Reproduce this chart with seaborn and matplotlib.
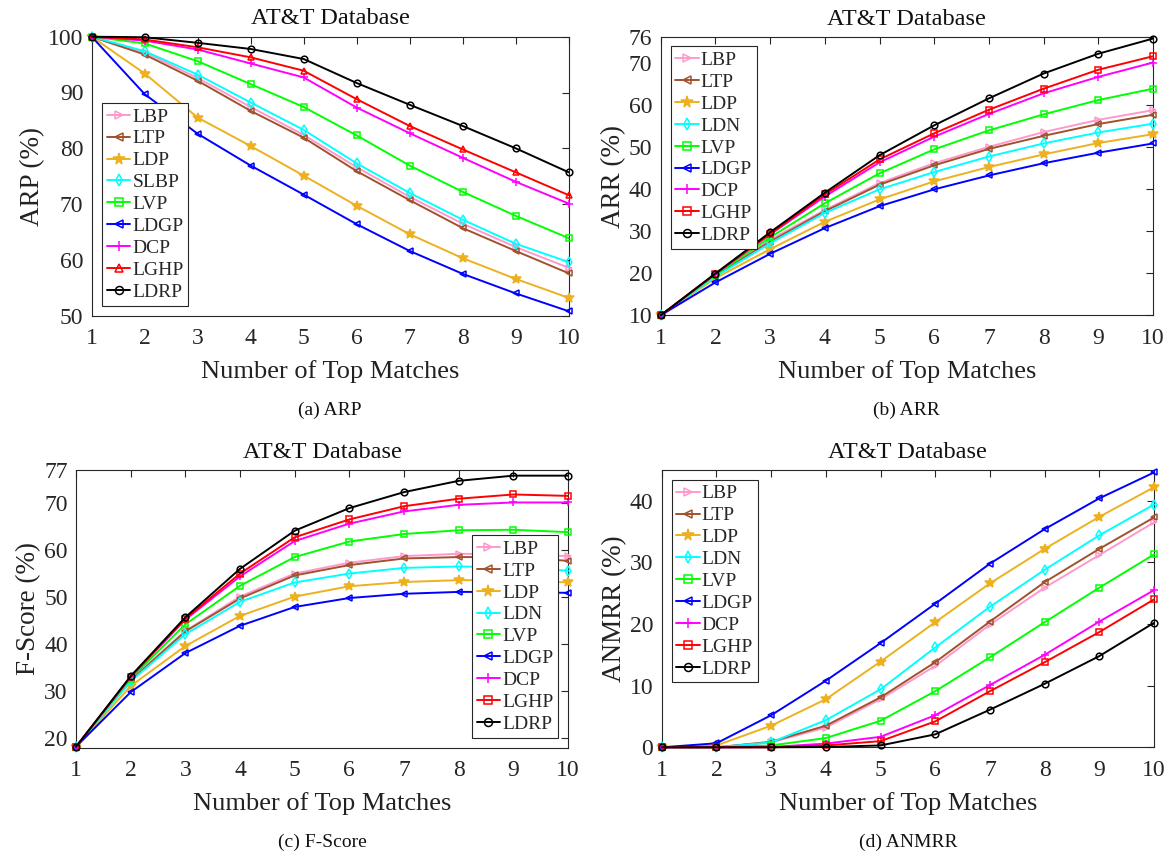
import matplotlib
matplotlib.use("Agg")
import matplotlib.pyplot as plt
import seaborn as sns
import numpy as np

sns.set_theme(style="white")
plt.rcParams['font.family'] = ['Liberation Serif', 'DejaVu Serif']
plt.rcParams['mathtext.fontset'] = 'stix'

top_matches = [1, 2, 3, 4, 5, 6, 7, 8, 9, 10]

# ---- (a) ARP ----
arp_LBP  = [100, 97.2, 92.6, 87.4, 82.4, 76.6, 71.3, 66.5, 62.3, 58.6]
arp_LTP  = [100, 96.8, 92.1, 86.7, 81.9, 75.9, 70.7, 65.7, 61.6, 57.6]
arp_LDP  = [100, 93.4, 85.5, 80.4, 75.1, 69.7, 64.6, 60.3, 56.6, 53.2]
arp_SLBP = [100, 97.4, 93.2, 88.2, 83.3, 77.3, 72.0, 67.2, 62.9, 59.6]
arp_LVP  = [100, 98.8, 95.6, 91.5, 87.4, 82.3, 76.9, 72.2, 67.9, 63.9]
arp_LDGP = [100, 89.7, 82.6, 76.9, 71.7, 66.4, 61.6, 57.5, 54.0, 50.8]
arp_DCP  = [100, 99.3, 97.7, 95.2, 92.7, 87.3, 82.7, 78.3, 74.0, 70.1]
arp_LGHP = [100, 99.5, 98.1, 96.3, 93.9, 88.8, 84.0, 79.8, 75.7, 71.6]
arp_LDRP = [100, 99.9, 98.9, 97.8, 96.0, 91.7, 87.8, 84.0, 80.0, 75.7]

# ---- (b) ARR ----
arr_LBP  = [10, 19.4, 27.9, 35.0, 41.4, 46.1, 50.0, 53.5, 56.4, 58.7]
arr_LTP  = [10, 19.4, 27.5, 34.7, 41.0, 45.6, 49.5, 52.6, 55.4, 57.6]
arr_LDP  = [10, 18.8, 25.7, 32.2, 37.5, 41.8, 45.2, 48.2, 50.9, 53.0]
arr_LDN  = [10, 19.2, 27.1, 34.3, 39.9, 44.0, 47.7, 50.8, 53.4, 55.5]
arr_LVP  = [10, 19.6, 28.5, 36.6, 43.7, 49.4, 53.9, 57.7, 61.1, 63.8]
arr_LDGP = [10, 17.8, 24.6, 30.7, 35.9, 39.9, 43.2, 46.1, 48.6, 50.8]
arr_DCP  = [10, 19.8, 29.2, 38.2, 46.3, 52.4, 57.8, 62.7, 66.6, 70.0]
arr_LGHP = [10, 19.9, 29.3, 38.7, 47.0, 53.2, 58.8, 63.8, 68.3, 71.5]
arr_LDRP = [10, 19.9, 29.7, 39.1, 48.0, 55.1, 61.5, 67.4, 72.1, 75.7]

# ---- (c) F-Score ----
f_LBP  = [18.2, 32.4, 42.8, 50.1, 55.0, 57.3, 58.7, 59.2, 59.1, 58.7]
f_LTP  = [18.2, 32.3, 42.7, 49.7, 54.6, 56.8, 58.2, 58.5, 58.5, 57.7]
f_LDP  = [18.2, 31.1, 39.6, 46.0, 50.1, 52.3, 53.2, 53.6, 53.6, 53.1]
f_LDN  = [18.2, 32.1, 42.1, 49.0, 53.1, 55.0, 56.2, 56.5, 56.3, 55.6]
f_LVP  = [18.2, 32.7, 44.2, 52.4, 58.5, 61.8, 63.4, 64.2, 64.3, 63.8]
f_LDGP = [18.2, 29.8, 38.1, 43.9, 47.9, 49.8, 50.7, 51.1, 51.1, 50.9]
f_DCP  = [18.2, 33.0, 45.2, 54.4, 61.9, 65.6, 68.2, 69.6, 70.1, 70.1]
f_LGHP = [18.2, 33.1, 45.4, 55.0, 62.7, 66.5, 69.3, 70.9, 71.8, 71.5]
f_LDRP = [18.2, 33.2, 45.7, 56.0, 64.1, 68.9, 72.3, 74.7, 75.8, 75.8]

# ---- (d) ANMRR ----
an_LBP  = [0, 0.0, 0.8, 3.2, 7.8, 13.2, 19.9, 25.9, 31.2, 36.5]
an_LTP  = [0, 0.0, 0.9, 3.5, 8.1, 13.8, 20.4, 26.8, 32.2, 37.3]
an_LDP  = [0, 0.3, 3.5, 7.8, 13.9, 20.3, 26.6, 32.2, 37.4, 42.2]
an_LDN  = [0, 0.0, 0.8, 4.4, 9.4, 16.2, 22.8, 28.8, 34.4, 39.4]
an_LVP  = [0, 0.0, 0.3, 1.5, 4.3, 9.1, 14.6, 20.3, 25.9, 31.3]
an_LDGP = [0, 0.65, 5.2, 10.8, 16.9, 23.3, 29.8, 35.4, 40.4, 44.6]
an_DCP  = [0, 0.0, 0.05, 0.6, 1.7, 5.2, 10.1, 15.0, 20.4, 25.5]
an_LGHP = [0, 0.0, 0.0, 0.3, 1.0, 4.2, 9.1, 13.8, 18.7, 24.0]
an_LDRP = [0, 0.0, 0.0, 0.05, 0.3, 2.1, 6.1, 10.3, 14.8, 20.2]

colors = {
    'LBP': '#FF99CC', 'LTP': '#A0522D', 'LDP': '#EDB120', 'SLBP': '#00FFFF',
    'LDN': '#00FFFF', 'LVP': '#00FF00', 'LDGP': '#0000FF', 'DCP': '#FF00FF',
    'LGHP': '#FF0000', 'LDRP': '#000000',
}
markers = {
    'LBP': '>', 'LTP': '<', 'LDP': '*', 'SLBP': 'd', 'LDN': 'd', 'LVP': 's',
    'LDGP': '<', 'DCP': '+', 'LGHP': 's', 'LDRP': 'o',
}

W, H = 1171, 857
fig = plt.figure(figsize=(W / 100, H / 100), dpi=100)


def add_ax(x0, x1, y0, y1):
    return fig.add_axes([x0 / W, 1 - y1 / H, (x1 - x0) / W, (y1 - y0) / H])


panels = [
    dict(box=(91.7, 568.7, 36.7, 315.7), ylim=(50, 100), yticks=[50, 60, 70, 80, 90, 100],
         ylabel='ARP (%)', caption='(a) ARP',
         series=[('LBP', arp_LBP), ('LTP', arp_LTP), ('LDP', arp_LDP), ('SLBP', arp_SLBP),
                 ('LVP', arp_LVP), ('LDGP', arp_LDGP), ('DCP', arp_DCP), ('LGHP', arp_LGHP),
                 ('LDRP', arp_LDRP)],
         lghp_marker='^', leg=dict(loc='upper left', bbox_to_anchor=(0.022, 0.762))),
    dict(box=(660.7, 1153, 37.3, 315.3), ylim=(10, 76), yticks=[10, 20, 30, 40, 50, 60, 70, 76],
         ylabel='ARR (%)', caption='(b) ARR',
         series=[('LBP', arr_LBP), ('LTP', arr_LTP), ('LDP', arr_LDP), ('LDN', arr_LDN),
                 ('LVP', arr_LVP), ('LDGP', arr_LDGP), ('DCP', arr_DCP), ('LGHP', arr_LGHP),
                 ('LDRP', arr_LDRP)],
         lghp_marker='s', leg=dict(loc='upper left', bbox_to_anchor=(0.02, 0.967))),
    dict(box=(76, 568, 470, 747.7), ylim=(18, 77), yticks=[20, 30, 40, 50, 60, 70, 77],
         ylabel='F-Score (%)', caption='(c) F-Score',
         series=[('LBP', f_LBP), ('LTP', f_LTP), ('LDP', f_LDP), ('LDN', f_LDN),
                 ('LVP', f_LVP), ('LDGP', f_LDGP), ('DCP', f_DCP), ('LGHP', f_LGHP),
                 ('LDRP', f_LDRP)],
         lghp_marker='s', leg=dict(loc='lower right', bbox_to_anchor=(0.98, 0.036))),
    dict(box=(661.7, 1154, 470, 747.3), ylim=(0, 45), yticks=[0, 10, 20, 30, 40],
         ylabel='ANMRR (%)', caption='(d) ANMRR',
         series=[('LBP', an_LBP), ('LTP', an_LTP), ('LDP', an_LDP), ('LDN', an_LDN),
                 ('LVP', an_LVP), ('LDGP', an_LDGP), ('DCP', an_DCP), ('LGHP', an_LGHP),
                 ('LDRP', an_LDRP)],
         lghp_marker='s', leg=dict(loc='upper left', bbox_to_anchor=(0.02, 0.964))),
]

for p in panels:
    x0, x1, y0, y1 = p['box']
    ax = add_ax(x0, x1, y0, y1)
    for name, vals in p['series']:
        c = colors[name]
        m = markers[name]
        if name == 'LGHP':
            m = p['lghp_marker']
        mfc = c if m == '*' else 'none'
        ms = 7 if m == '*' else (6 if m == '+' else 4.8)
        sns.lineplot(x=top_matches, y=vals, ax=ax, color=c, marker=m, markersize=ms,
                     markerfacecolor=mfc, markeredgecolor=c, markeredgewidth=1.1,
                     linewidth=1.4, label=name, clip_on=False, zorder=3)
    ax.set_xlim(1, 10)
    ax.set_ylim(*p['ylim'])
    ax.set_xticks(top_matches)
    ax.set_yticks(p['yticks'])
    ax.tick_params(direction='in', length=5, width=0.8, labelsize=17, top=True, right=True,
                   colors='#262626')
    ax.tick_params(axis='x', pad=9)
    ax.tick_params(axis='y', pad=6)
    for s in ax.spines.values():
        s.set_color('#262626')
        s.set_linewidth(0.8)
    ax.set_title('AT&T Database', fontsize=17.5, pad=9, color='#111111')
    ax.set_xlabel('Number of Top Matches', fontsize=19, color='#222222', labelpad=8)
    ax.set_ylabel(p['ylabel'], fontsize=19.5, color='#222222', labelpad=2)
    leg = ax.legend(fontsize=14, frameon=True, fancybox=False, edgecolor='#262626',
                    framealpha=1, handlelength=1.2, handletextpad=0.1, labelspacing=0.22,
                    borderpad=0.25, borderaxespad=0, markerscale=1.2, **p['leg'])
    leg.get_frame().set_linewidth(0.8)
    fig.text((x0 + x1) / 2 / W, 1 - (y1 + 95) / H, p['caption'], ha='center', va='center',
             fontsize=14, color='#111111')

fig.savefig('out.png', dpi=100)
